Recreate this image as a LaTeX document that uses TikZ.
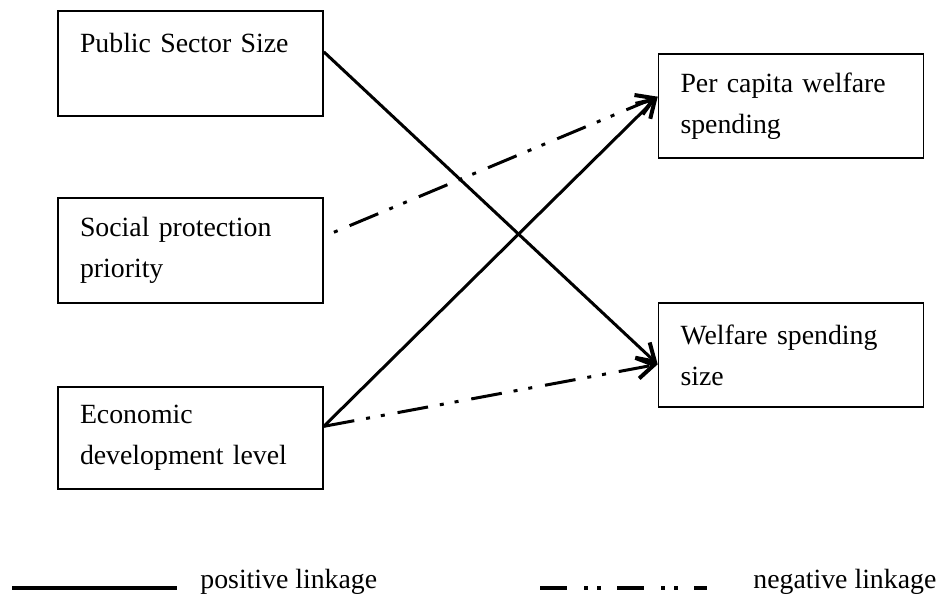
\documentclass[tikz,border=0pt]{standalone}
\usepackage{fontspec}
\setmainfont{Liberation Serif}
\usetikzlibrary{arrows.meta}

\begin{document}
\begin{tikzpicture}[x=0.5pt,y=-0.5pt,
  font=\fontsize{13.9pt}{20.5pt}\selectfont,
  factor/.style={draw,line width=0.8pt,minimum width=132.5pt,text width=110.5pt,inner xsep=11pt,align=left},
  poslink/.style={line width=1.5pt,-{Straight Barb[length=8.5pt,width=10.5pt,line width=2pt]}},
  neglink/.style={poslink,dash pattern=on 15.5pt off 6pt on 2pt off 5.5pt on 2pt off 6.5pt},
  legline/.style={line width=2.2pt}]

\useasboundingbox (0,0) rectangle (939,594);

% left column
\node[factor,minimum height=52.5pt] (pss) at (190.5,63.5) {Public Sector Size\\ \mbox{}};
\node[factor,minimum height=52.5pt] (spp) at (190.5,250.5) {Social protection\\priority};
\node[factor,minimum height=51pt] (edl) at (190.5,438) {Economic\\development level};

% right column
\node[factor,minimum height=52pt] (pcw) at (791,106) {Per capita welfare\\spending};
\node[factor,minimum height=52pt] (wss) at (791,355) {Welfare spending\\size};

\draw[poslink] (pss.5)--(wss.184);
\draw[neglink,dash phase=23.5pt] (spp.6)--(pcw.176);
\draw[poslink] (edl.5)--(pcw.176);
\draw[neglink] (edl.5)--(wss.184);

% legend
\coordinate (pos-a) at (12,588);
\coordinate (pos-b) at (177,588);
\draw[legline] (pos-a)--(pos-b);
\node[anchor=base west,inner sep=0pt] (pos-text) at (200,588) {positive linkage};

\coordinate (neg-a) at (540,588);
\coordinate (neg-b) at (707,588);
\draw[legline,dash pattern=on 13.5pt off 8.5pt on 2pt off 4.5pt on 2pt off 8pt] (neg-a)--(neg-b);
\node[anchor=base west,inner sep=0pt] (neg-text) at (753,588) {negative linkage};
\end{tikzpicture}
\end{document}
